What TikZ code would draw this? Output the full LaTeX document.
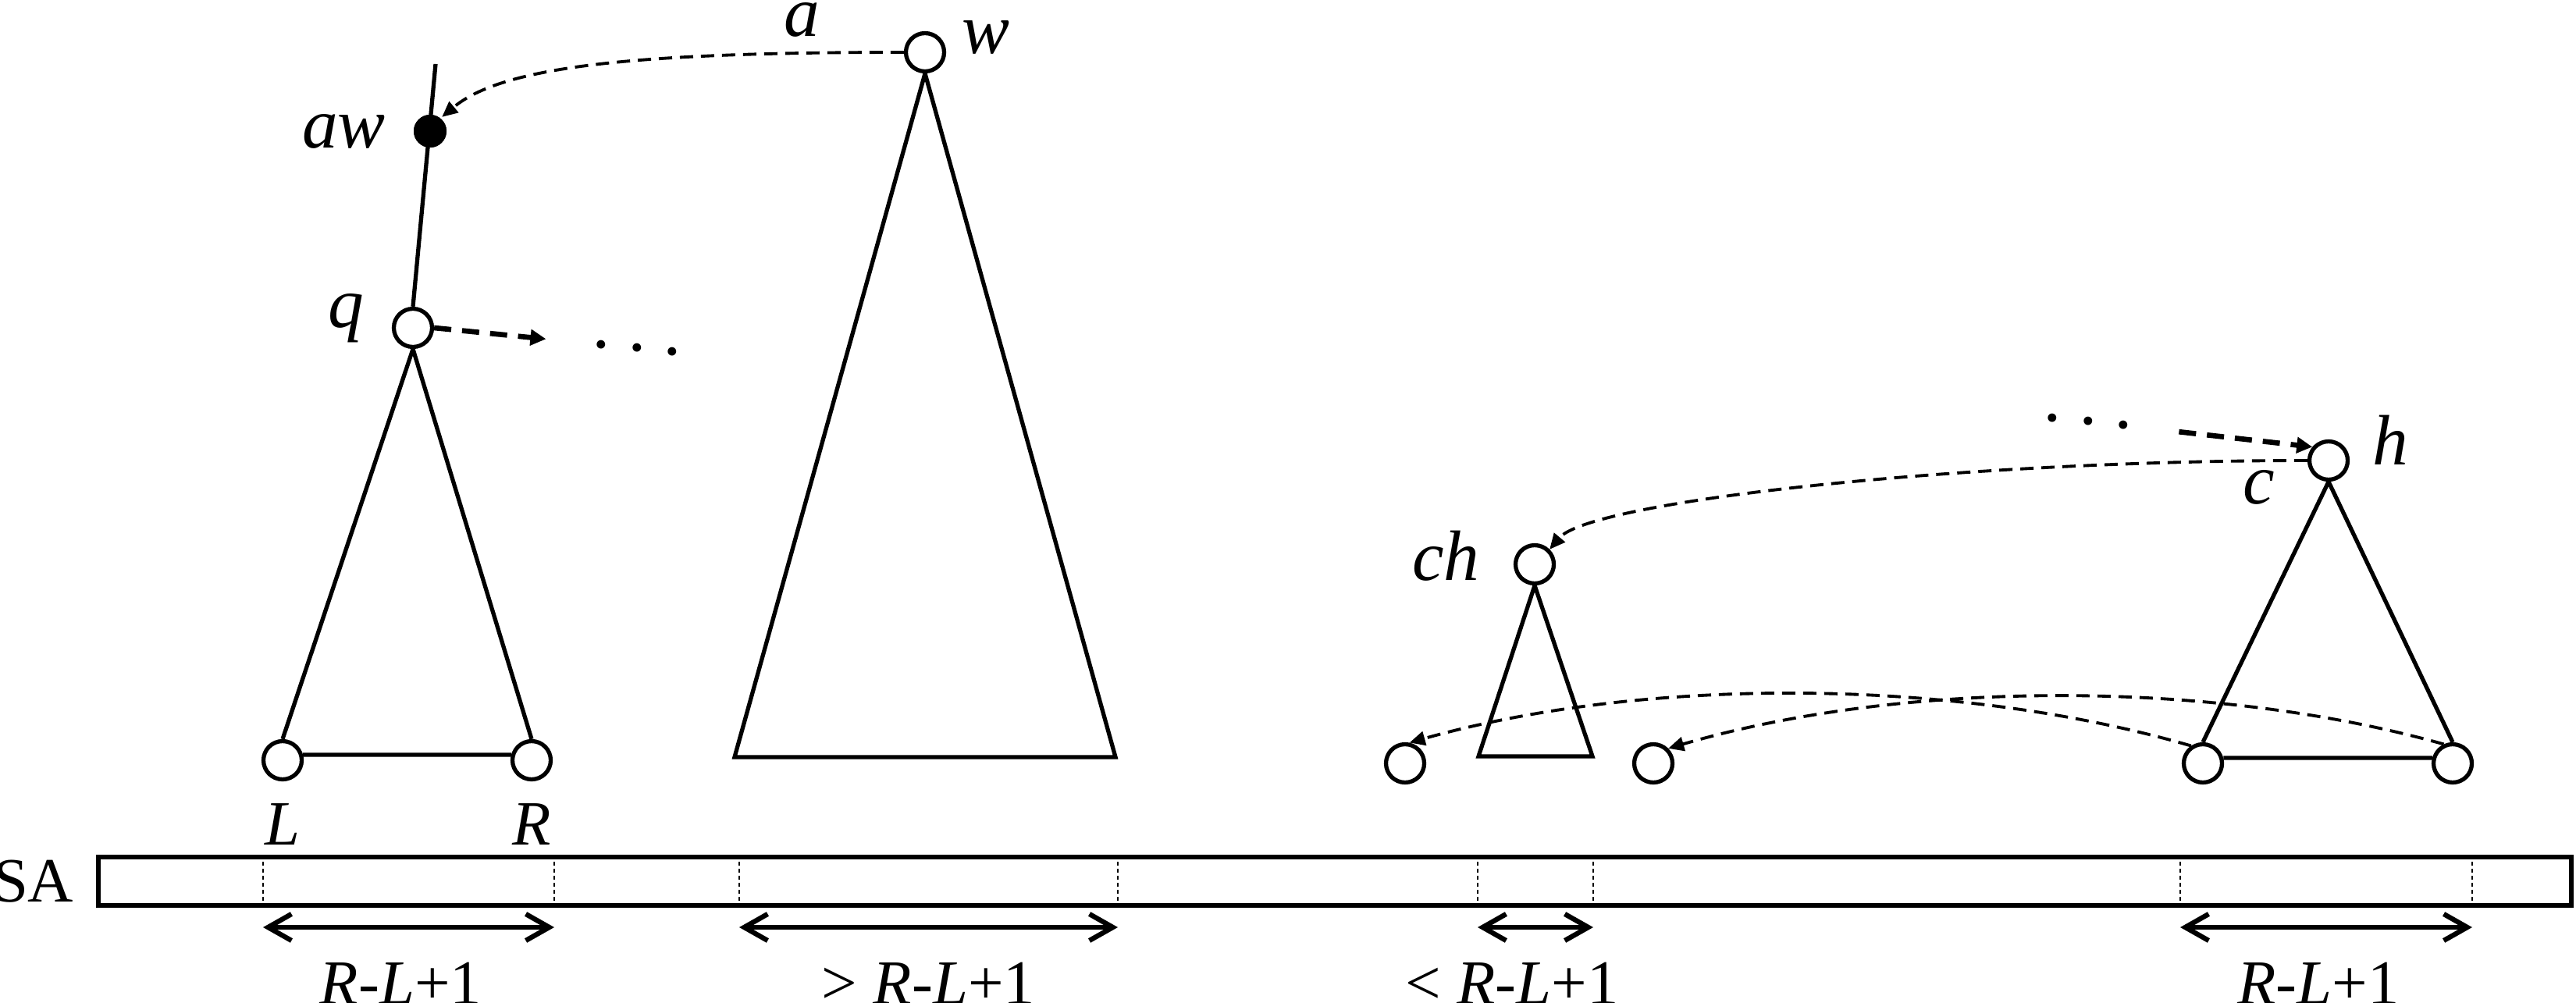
\documentclass[tikz,border=0pt]{standalone}
\usepackage{fontspec}
\setmainfont{Liberation Serif}
\usetikzlibrary{arrows.meta,positioning}

\begin{document}
\begin{tikzpicture}[
  line width=1.5pt,
  vtx/.style={circle, draw, fill=white, minimum size=0.49cm, inner sep=0pt},
  dotv/.style={circle, fill=black, minimum size=0.42cm, inner sep=0pt},
  tlbl/.style={inner sep=0pt, font=\fontsize{26}{30}\selectfont\itshape},
  blbl/.style={inner sep=0pt, font=\fontsize{23}{27}\selectfont},
  dotsnode/.style={inner sep=0pt, outer sep=0.6cm, rotate=-6, font=\fontsize{26}{30}\selectfont},
  ptr/.style={line width=1.1pt, dash pattern=on 0.17cm off 0.1cm, -{Triangle[length=0.2cm,width=0.18cm]}},
  jump/.style={line width=1.9pt, dash pattern=on 0.22cm off 0.14cm, -{Triangle[length=0.2cm,width=0.2cm]}},
  span/.style={line width=1.8pt, {Straight Barb[length=0.3cm,width=0.34cm]}-{Straight Barb[length=0.3cm,width=0.34cm]}},
  sepline/.style={line width=0.6pt, dash pattern=on 0.05cm off 0.04cm}
]
  \useasboundingbox (0,0) rectangle (33,-12.85);

  % left part
  \node[vtx]  (w)  at (11.85,-0.67) {};
  \node[dotv] (aw) at (5.51,-1.68) {};
  \coordinate (awtop) at (5.58,-0.82);
  \node[vtx]  (q)  at (5.29,-4.20) {};
  \node[vtx]  (L)  at (3.62,-9.74) {};
  \node[vtx]  (R)  at (6.81,-9.74) {};
  \coordinate (wl) at (9.41,-9.70);
  \coordinate (wr) at (14.29,-9.70);
  \node[dotsnode] (qdots) at (8.16,-4.46) {.\ .\ .};

  \draw (q.north) -- (awtop);
  \node[dotv] at (aw) {};
  \draw (q.south) -- (L.north) (q.south) -- (R.north) (L.15) -- (R.165);
  \draw (w.south) -- (wl) -- (wr) -- (w.south);

  \node[tlbl, left=1.05cm of w, yshift=0.42cm] (alab)  {a};
  \node[tlbl, right=0.18cm of w, yshift=0.19cm] (wlab) {w};
  \node[tlbl, left=0.31cm of aw]                (awlab) {aw};
  \node[tlbl, left=0.33cm of q, yshift=0.12cm]  (qlab)  {q};
  \node[blbl, below=0.26cm of L] (Llab) {\textit{L}};
  \node[blbl, below=0.26cm of R] (Rlab) {\textit{R}};

  \draw[ptr]  (w.west) .. controls +(180:3.5) and +(40:1) .. (aw.50);
  \draw[jump] (q.east) -- (qdots);

  % right part
  \node[vtx] (ch) at (19.66,-7.23) {};
  \coordinate (chl) at (18.94,-9.69);
  \coordinate (chr) at (20.40,-9.69);
  \node[vtx] (s1) at (18.00,-9.78) {};
  \node[vtx] (s2) at (21.18,-9.78) {};
  \node[vtx] (h)  at (29.83,-5.90) {};
  \node[vtx] (hl) at (28.22,-9.78) {};
  \node[vtx] (hr) at (31.42,-9.78) {};
  \node[dotsnode] (hdots) at (26.75,-5.40) {.\ .\ .};

  \draw (ch.south) -- (chl) -- (chr) -- (ch.south);
  \draw (h.south) -- (hl.north) (h.south) -- (hr.north) (hl.15) -- (hr.165);

  \node[tlbl, left=0.41cm of ch, yshift=0.11cm] (chlab) {ch};
  \node[tlbl, right=0.27cm of h, yshift=0.26cm] (hlab)  {h};
  \node[tlbl, left=0.39cm of h, yshift=-0.34cm] (clab)  {c};

  \draw[ptr]  (h.west) .. controls +(180:4.5) and +(50:0.8) .. (ch.45);
  \draw[ptr]  (hl.124) to[bend right=16, looseness=0.8] (s1.78);
  \draw[ptr]  (hr.115) to[bend right=16, looseness=0.8] (s2.45);
  \draw[jump] (hdots) -- (h.140);

  % suffix array
  \node[draw, line width=1.7pt, minimum width=31.68cm, minimum height=0.62cm, inner sep=0pt] (sa) at (17.10,-11.29) {};
  \node[blbl, left=0.26cm of sa] (salab) {SA};
  \foreach \x [count=\i] in {3.37,7.10,9.47,14.32,18.93,20.41,27.93,31.67} {
    \draw[sepline] (\x,0 |- sa.north) -- (\x,0 |- sa.south);
    \coordinate (m\i) at (\x,-11.88);
  }

  \draw[span] (m1) -- node[blbl, below=0.42cm, xshift=-0.1cm] {\textit{R}-\textit{L}+1} (m2);
  \draw[span] (m3) -- node[blbl, below=0.42cm] {> \textit{R}-\textit{L}+1} (m4);
  \draw[span] (m5) -- node[blbl, below=0.42cm, xshift=-0.3cm] {< \textit{R}-\textit{L}+1} (m6);
  \draw[span] (m7) -- node[blbl, below=0.42cm, xshift=-0.1cm] {\textit{R}-\textit{L}+1} (m8);
\end{tikzpicture}
\end{document}
